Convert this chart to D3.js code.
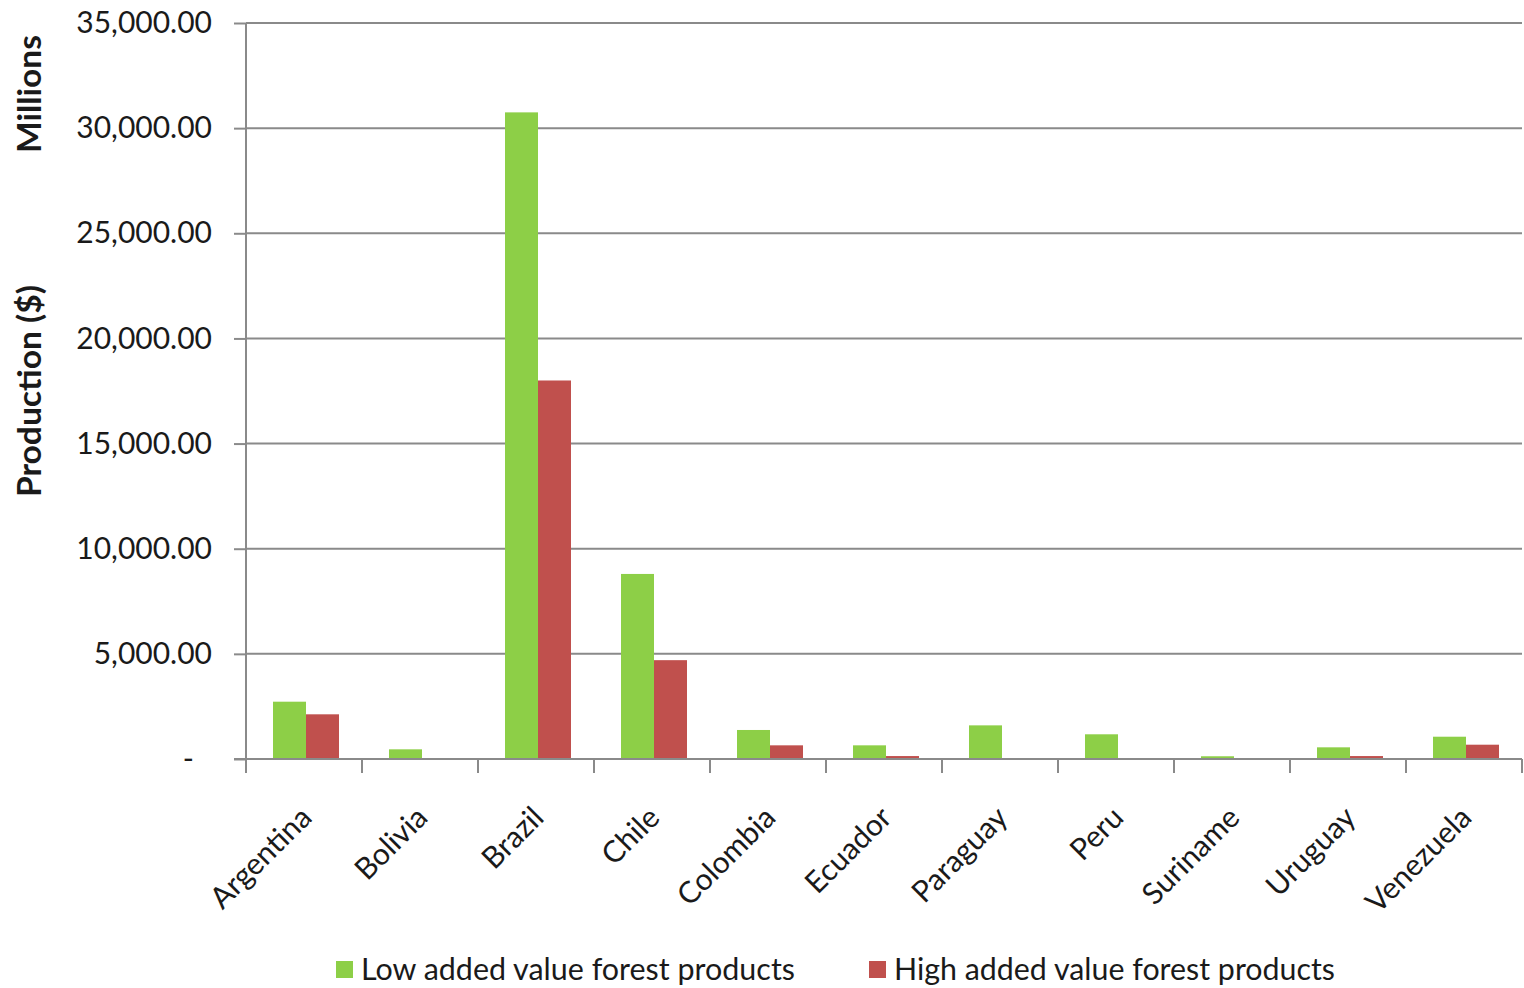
<!DOCTYPE html>
<html>
<head>
<meta charset="utf-8">
<script src="https://cdn.jsdelivr.net/npm/d3@7/dist/d3.min.js"></script>
<style>
  html, body { margin: 0; padding: 0; background: #fff; }
  svg { display: block; }
  text { font-family: Lato, "Open Sans", sans-serif; fill: #1a1a1a; }
</style>
</head>
<body>
<svg id="chart" width="1524" height="988"></svg>
<script>
// Forest product output by country (US$ millions)
const countries = ["Argentina", "Bolivia", "Brazil", "Chile", "Colombia", "Ecuador",
                   "Paraguay", "Peru", "Suriname", "Uruguay", "Venezuela"];
const lowValue  = [2725, 460, 30750, 8800, 1380, 650, 1600, 1175, 130, 555, 1060];
const highValue = [2125, 0, 18000, 4700, 650, 140, 0, 0, 0, 140, 680];
const seriesNames = ["Low added value forest products", "High added value forest products"];
const seriesColors = ["#8dcf47", "#c0504d"];
const yTicks = [0, 5000, 10000, 15000, 20000, 25000, 30000, 35000];
const yTickLabels = ["-", "5,000.00", "10,000.00", "15,000.00", "20,000.00",
                     "25,000.00", "30,000.00", "35,000.00"];

const svg = d3.select("#chart");
const plot = { left: 246, right: 1522, top: 23, bottom: 759 };
const gridColor = "#8a8a8a";

const x = d3.scaleBand().domain(countries).range([plot.left, plot.right]);
const x1 = d3.scaleBand().domain([0, 1]).range([27, 93]);
const y = d3.scaleLinear().domain([0, 35000]).range([plot.bottom, plot.top]);

// horizontal gridlines
svg.append("g")
  .selectAll("line")
  .data(yTicks.filter(d => d > 0))
  .join("line")
  .attr("x1", plot.left).attr("x2", plot.right)
  .attr("y1", d => y(d)).attr("y2", d => y(d))
  .attr("stroke", gridColor).attr("stroke-width", 2);

// bars
const rows = countries.map((c, i) => ({ c, v: [lowValue[i], highValue[i]] }));
svg.append("g")
  .selectAll("g")
  .data(rows)
  .join("g")
  .attr("transform", d => `translate(${x(d.c)},0)`)
  .selectAll("rect")
  .data(d => d.v.map((v, k) => ({ v, k })))
  .join("rect")
  .attr("x", d => x1(d.k))
  .attr("width", x1.bandwidth())
  .attr("y", d => y(d.v))
  .attr("height", d => y(0) - y(d.v))
  .attr("fill", d => seriesColors[d.k]);

// y axis
const yAxis = d3.axisLeft(y)
  .tickValues(yTicks)
  .tickFormat((d, i) => yTickLabels[i])
  .tickSize(12)
  .tickPadding(22);
const gy = svg.append("g").attr("transform", `translate(${plot.left},0)`).call(yAxis);
gy.select(".domain").attr("stroke", gridColor).attr("stroke-width", 2)
  .attr("d", `M0,${plot.top}V${plot.bottom}`);
gy.selectAll(".tick line").attr("stroke", gridColor).attr("stroke-width", 2);
gy.selectAll(".tick text")
  .style("font-size", "30px")
  .style("font-family", "Lato, sans-serif")
  .attr("fill", "#1a1a1a")
  .attr("dx", d => d === 0 ? -18 : 0);

// x axis
const xAxis = d3.axisBottom(x).tickSize(0).tickFormat("");
const gx = svg.append("g").attr("transform", `translate(0,${plot.bottom})`).call(xAxis);
gx.select(".domain").attr("stroke", gridColor).attr("stroke-width", 2)
  .attr("d", `M${plot.left - 12},0H${plot.right}`);
const boundaries = countries.map(c => x(c)).concat([plot.right]);
gx.selectAll(".bound")
  .data(boundaries)
  .join("line")
  .attr("class", "bound")
  .attr("x1", d => d).attr("x2", d => d)
  .attr("y1", 0).attr("y2", 14)
  .attr("stroke", gridColor).attr("stroke-width", 2);

// rotated category labels
svg.append("g")
  .selectAll("text")
  .data(countries)
  .join("text")
  .attr("transform", d => `translate(${x(d) + x.bandwidth() / 2 + 2},${plot.bottom + 53}) rotate(-45)`)
  .attr("text-anchor", "end")
  .attr("dy", "0.35em")
  .style("font-size", "30px")
  .text(d => d);

// axis titles
svg.append("text")
  .attr("transform", `translate(41,391) rotate(-90)`)
  .attr("text-anchor", "middle")
  .style("font-size", "32px").style("font-weight", "bold")
  .attr("textLength", 212).attr("lengthAdjust", "spacingAndGlyphs")
  .text("Production ($)");
svg.append("text")
  .attr("transform", `translate(41,94) rotate(-90)`)
  .attr("text-anchor", "middle")
  .style("font-size", "32px").style("font-weight", "bold")
  .attr("textLength", 118).attr("lengthAdjust", "spacingAndGlyphs")
  .text("Millions");

// legend
const legendX = [336, 869];
const legendWidths = [434, 441];
const lg = svg.append("g")
  .selectAll("g")
  .data(seriesNames)
  .join("g")
  .attr("transform", (d, i) => `translate(${legendX[i]},969)`);
lg.append("rect")
  .attr("x", 0).attr("y", -8).attr("width", 17).attr("height", 17)
  .attr("fill", (d, i) => seriesColors[i]);
lg.append("text")
  .attr("x", 25).attr("y", 0).attr("dy", "0.35em")
  .style("font-size", "30px")
  .attr("textLength", (d, i) => legendWidths[i])
  .attr("lengthAdjust", "spacingAndGlyphs")
  .text(d => d);
</script>
</body>
</html>
